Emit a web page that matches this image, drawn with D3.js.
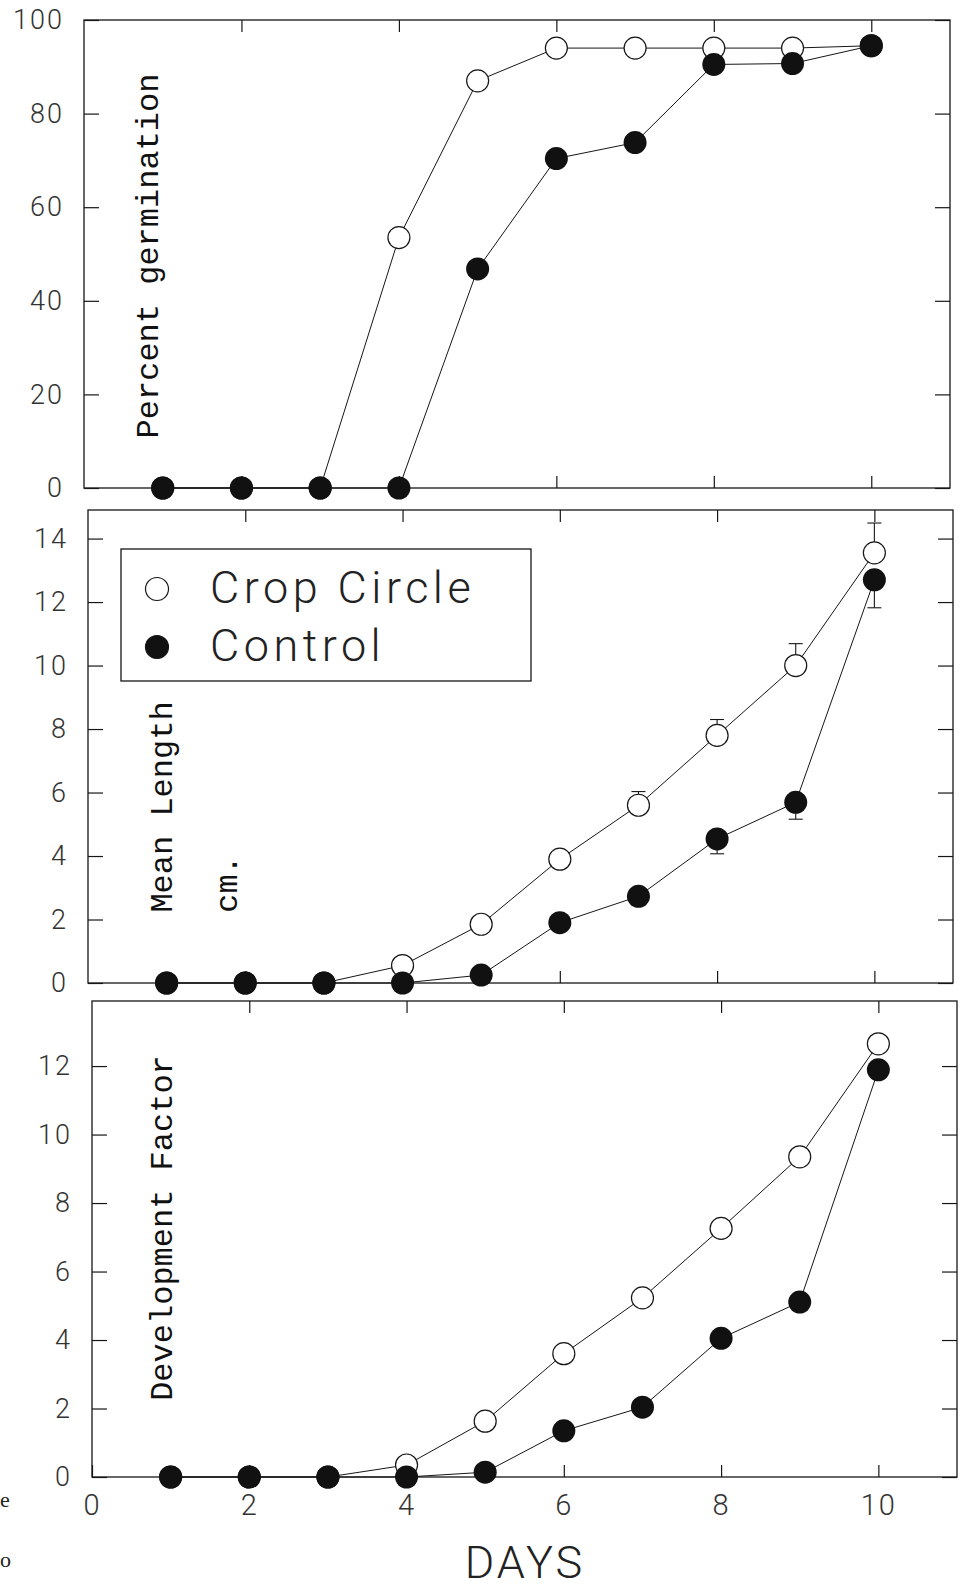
<!DOCTYPE html>
<html>
<head>
    <meta charset="utf-8">
    <title>Germination</title>
    <style>
        body { margin: 0; background: #fff; }
    </style>
</head>
<body>
    <script src="https://cdnjs.cloudflare.com/ajax/libs/d3/7.9.0/d3.min.js"></script>
    <script>

        const days = [1, 2, 3, 4, 5, 6, 7, 8, 9, 10];
        const dayTicks = [0, 2, 4, 6, 8, 10];

        const germCrop    = [0, 0, 0, 53.5, 87, 94, 94, 94, 94, 94.5];
        const germControl = [0, 0, 0, 0, 46.8, 70.4, 73.8, 90.5, 90.7, 94.5];
        const germTicks   = [0, 20, 40, 60, 80, 100];

        const lenCrop       = [0, 0, 0, 0.55, 1.85, 3.9, 5.6, 7.8, 10.0, 13.55];
        const lenControl    = [0, 0, 0, 0, 0.25, 1.9, 2.73, 4.54, 5.69, 12.7];
        const lenCropErr    = [0, 0, 0, 0, 0, 0, 0.43, 0.5, 0.69, 0.94];
        const lenControlErr = [0, 0, 0, 0, 0, 0, 0.28, 0.47, 0.53, 0.88];
        const lenTicks      = [0, 2, 4, 6, 8, 10, 12, 14];

        const devCrop    = [0, 0, 0, 0.35, 1.63, 3.6, 5.23, 7.26, 9.35, 12.65];
        const devControl = [0, 0, 0, 0, 0.14, 1.35, 2.04, 4.05, 5.11, 11.89];
        const devTicks   = [0, 2, 4, 6, 8, 10, 12];

        const width = 964;
        const height = 1589;
        const ink = "#161616";
        const thinFont = "Roboto, 'Open Sans', sans-serif";
        const monoFont = "'Liberation Mono', 'DejaVu Sans Mono', monospace";

        const svg = d3.select("body")
            .append("svg")
            .attr("width", width)
            .attr("height", height);

        // the scan is slightly rotated, so each panel sits a few px further right
        const panels = [
            {top: 20, bottom: 488, left: 84, right: 950, yMax: 100, ticks: germTicks,
             crop: germCrop, control: germControl},
            {top: 510, bottom: 983, left: 88, right: 953, yMax: 14.9, ticks: lenTicks,
             crop: lenCrop, control: lenControl, cropErr: lenCropErr, controlErr: lenControlErr},
            {top: 1001, bottom: 1477, left: 92, right: 957, yMax: 13.9, ticks: devTicks,
             crop: devCrop, control: devControl, xLabels: true}
        ];

        panels.forEach(function(p) {
            const x = d3.scaleLinear().domain([0, 11]).range([p.left, p.right]);
            const y = d3.scaleLinear().domain([0, p.yMax]).range([p.bottom, p.top]);
            const g = svg.append("g");

            g.append("rect")
                .attr("x", p.left)
                .attr("y", p.top)
                .attr("width", p.right - p.left)
                .attr("height", p.bottom - p.top)
                .attr("fill", "none")
                .attr("stroke", ink)
                .attr("stroke-width", 1.3);

            const left = g.append("g")
                .attr("transform", `translate(${p.left},0)`)
                .call(d3.axisLeft(y).tickValues(p.ticks).tickSize(-15).tickPadding(20));

            g.append("g")
                .attr("transform", `translate(${p.right},0)`)
                .call(d3.axisRight(y).tickValues(p.ticks).tickSize(-15).tickFormat(""));

            g.append("g")
                .attr("transform", `translate(0,${p.top})`)
                .call(d3.axisTop(x).tickValues(dayTicks.slice(1)).tickSize(-12).tickFormat(""));

            const bottom = g.append("g")
                .attr("transform", `translate(0,${p.bottom})`)
                .call(d3.axisBottom(x).tickValues(p.xLabels ? dayTicks : dayTicks.slice(1))
                    .tickSize(-12).tickPadding(17)
                    .tickFormat(p.xLabels ? d3.format("d") : ""));

            g.selectAll(".domain").remove();
            g.selectAll(".tick line").attr("stroke", ink).attr("stroke-width", 1.2);

            left.selectAll("text")
                .attr("font-family", thinFont)
                .attr("font-weight", 300)
                .attr("font-size", 27)
                .attr("letter-spacing", 2)
                .attr("fill", "#333");

            bottom.selectAll("text")
                .attr("font-family", thinFont)
                .attr("font-weight", 300)
                .attr("font-size", 29)
                .attr("letter-spacing", 2)
                .attr("fill", "#333");

            const line = d3.line()
                .x((d, i) => x(days[i]))
                .y(d => y(d));

            g.append("path")
                .datum(p.crop)
                .attr("d", line)
                .attr("fill", "none")
                .attr("stroke", ink)
                .attr("stroke-width", 1);

            g.append("path")
                .datum(p.control)
                .attr("d", line)
                .attr("fill", "none")
                .attr("stroke", ink)
                .attr("stroke-width", 1);

            // one-sided error bars: up for crop circle, down for control
            if (p.cropErr) {
                const bars = [];
                days.forEach((d, i) => {
                    if (p.cropErr[i] > 0) bars.push({d: d, v: p.crop[i], e: p.cropErr[i]});
                    if (p.controlErr[i] > 0) bars.push({d: d, v: p.control[i], e: -p.controlErr[i]});
                });
                const eb = g.selectAll(".err")
                    .data(bars)
                    .enter()
                    .append("g")
                    .attr("stroke", ink)
                    .attr("stroke-width", 1.1);
                eb.append("line")
                    .attr("x1", d => x(d.d)).attr("x2", d => x(d.d))
                    .attr("y1", d => y(d.v)).attr("y2", d => y(d.v + d.e));
                eb.append("line")
                    .attr("x1", d => x(d.d) - 7).attr("x2", d => x(d.d) + 7)
                    .attr("y1", d => y(d.v + d.e)).attr("y2", d => y(d.v + d.e));
            }

            g.selectAll(".crop")
                .data(p.crop)
                .enter()
                .append("circle")
                .attr("cx", (d, i) => x(days[i]))
                .attr("cy", d => y(d))
                .attr("r", 11)
                .attr("fill", "#fff")
                .attr("stroke", ink)
                .attr("stroke-width", 1.2);

            g.selectAll(".control")
                .data(p.control)
                .enter()
                .append("circle")
                .attr("cx", (d, i) => x(days[i]))
                .attr("cy", d => y(d))
                .attr("r", 11.5)
                .attr("fill", "#111");
        });

        // y titles in typewriter face
        const titles = [
            {text: "Percent germination", x: 158, y: 256},
            {text: "Mean Length", x: 172, y: 807},
            {text: "cm.", x: 237, y: 884},
            {text: "Development Factor", x: 172, y: 1228}
        ];

        svg.selectAll(".ytitle")
            .data(titles)
            .enter()
            .append("text")
            .attr("transform", d => `translate(${d.x},${d.y}) rotate(-90)`)
            .attr("text-anchor", "middle")
            .attr("font-family", monoFont)
            .attr("font-size", 32)
            .attr("fill", "#111")
            .text(d => d.text);

        // legend
        const legend = svg.append("g");
        legend.append("rect")
            .attr("x", 121)
            .attr("y", 549)
            .attr("width", 410)
            .attr("height", 132)
            .attr("fill", "#fff")
            .attr("stroke", ink)
            .attr("stroke-width", 1.3);

        const legendItems = [
            {name: "Crop Circle", fill: "#fff", y: 589},
            {name: "Control", fill: "#111", y: 647}
        ];

        legend.selectAll("circle")
            .data(legendItems)
            .enter()
            .append("circle")
            .attr("cx", 157)
            .attr("cy", d => d.y)
            .attr("r", 11.5)
            .attr("fill", d => d.fill)
            .attr("stroke", ink)
            .attr("stroke-width", 1.2);

        legend.selectAll("text")
            .data(legendItems)
            .enter()
            .append("text")
            .attr("x", 210)
            .attr("y", d => d.y + 14)
            .attr("font-family", thinFont)
            .attr("font-weight", 300)
            .attr("font-size", 45)
            .attr("letter-spacing", 4.5)
            .attr("fill", "#222")
            .text(d => d.name);

        svg.append("text")
            .attr("x", 525)
            .attr("y", 1578)
            .attr("text-anchor", "middle")
            .attr("font-family", thinFont)
            .attr("font-weight", 300)
            .attr("font-size", 45)
            .attr("letter-spacing", 3)
            .attr("fill", "#222")
            .text("DAYS");

        // stray letters from the scanned page margin
        svg.append("text").attr("x", 0).attr("y", 1507)
            .attr("font-family", "'Liberation Serif', serif").attr("font-size", 22)
            .attr("fill", "#222").text("e");
        svg.append("text").attr("x", 0).attr("y", 1567)
            .attr("font-family", "'Liberation Serif', serif").attr("font-size", 22)
            .attr("fill", "#222").text("o");

    </script>
</body>
</html>
